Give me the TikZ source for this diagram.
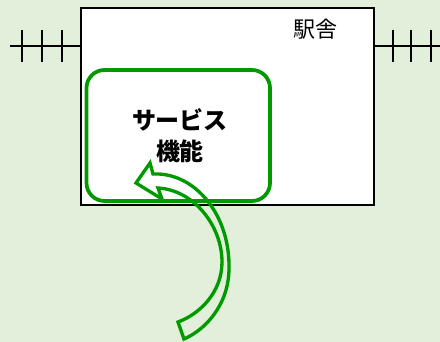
\documentclass[tikz,border=0pt]{standalone}
\usepackage{fontspec}
\newfontfamily\cjk{Noto Sans CJK JP}
\definecolor{bg}{HTML}{E2EFDA}
\definecolor{grn}{HTML}{009900}
\begin{document}
\begin{tikzpicture}[x=0.75pt,y=-0.75pt,
  rail/.style={draw=black,line width=1.5pt},
  building/.style={draw=black,fill=white,line width=1.5pt},
  service/.style={draw=grn,line width=2.8pt,rounded corners=13.5pt},
  turnarrow/.style={draw=grn,line width=2.5pt,line join=miter},
  lbl/.style={inner sep=0pt,font=\cjk\fontsize{16.5pt}{20pt}\selectfont},
  blbl/.style={inner sep=0pt,align=center,font=\cjk\bfseries\fontsize{18pt}{23.25pt}\selectfont}]
\fill[bg] (0,0) rectangle (440,342);
\useasboundingbox (0,0) rectangle (440,342);
% building
\node[building,minimum width=293*0.75pt,minimum height=197*0.75pt,anchor=north west,inner sep=0pt] (stn) at (80,7.5) {};
% rails
\coordinate (lrail) at (10,46.5);
\coordinate (rrail) at (440,46.5);
\draw[rail] (lrail) -- (lrail -| stn.west);
\draw[rail] (rrail) -- (rrail -| stn.east);
\foreach \x in {21.5,41.5,61.5,392.5,411,430.5}
  \draw[rail] (\x,30) -- (\x,62);
% service area
\draw[service] (86.5,70) rectangle (270,201) ;
\node[lbl] (eki) at (315.5,29.5) {駅舎};
\node[blbl] (svctext) at (180,136) {サービス\\機能};
% curved arrow
\draw[turnarrow] (178,322) .. controls (200,314) and (222,292) .. (222,262)
  .. controls (222,226) and (194,190) .. (158,188)
  -- (162,199) -- (136,183) -- (150,163) -- (153,174)
  .. controls (195,172) and (230,215) .. (229,268)
  .. controls (229,305) and (205,330) .. (184,339) -- cycle;
\end{tikzpicture}
\end{document}
